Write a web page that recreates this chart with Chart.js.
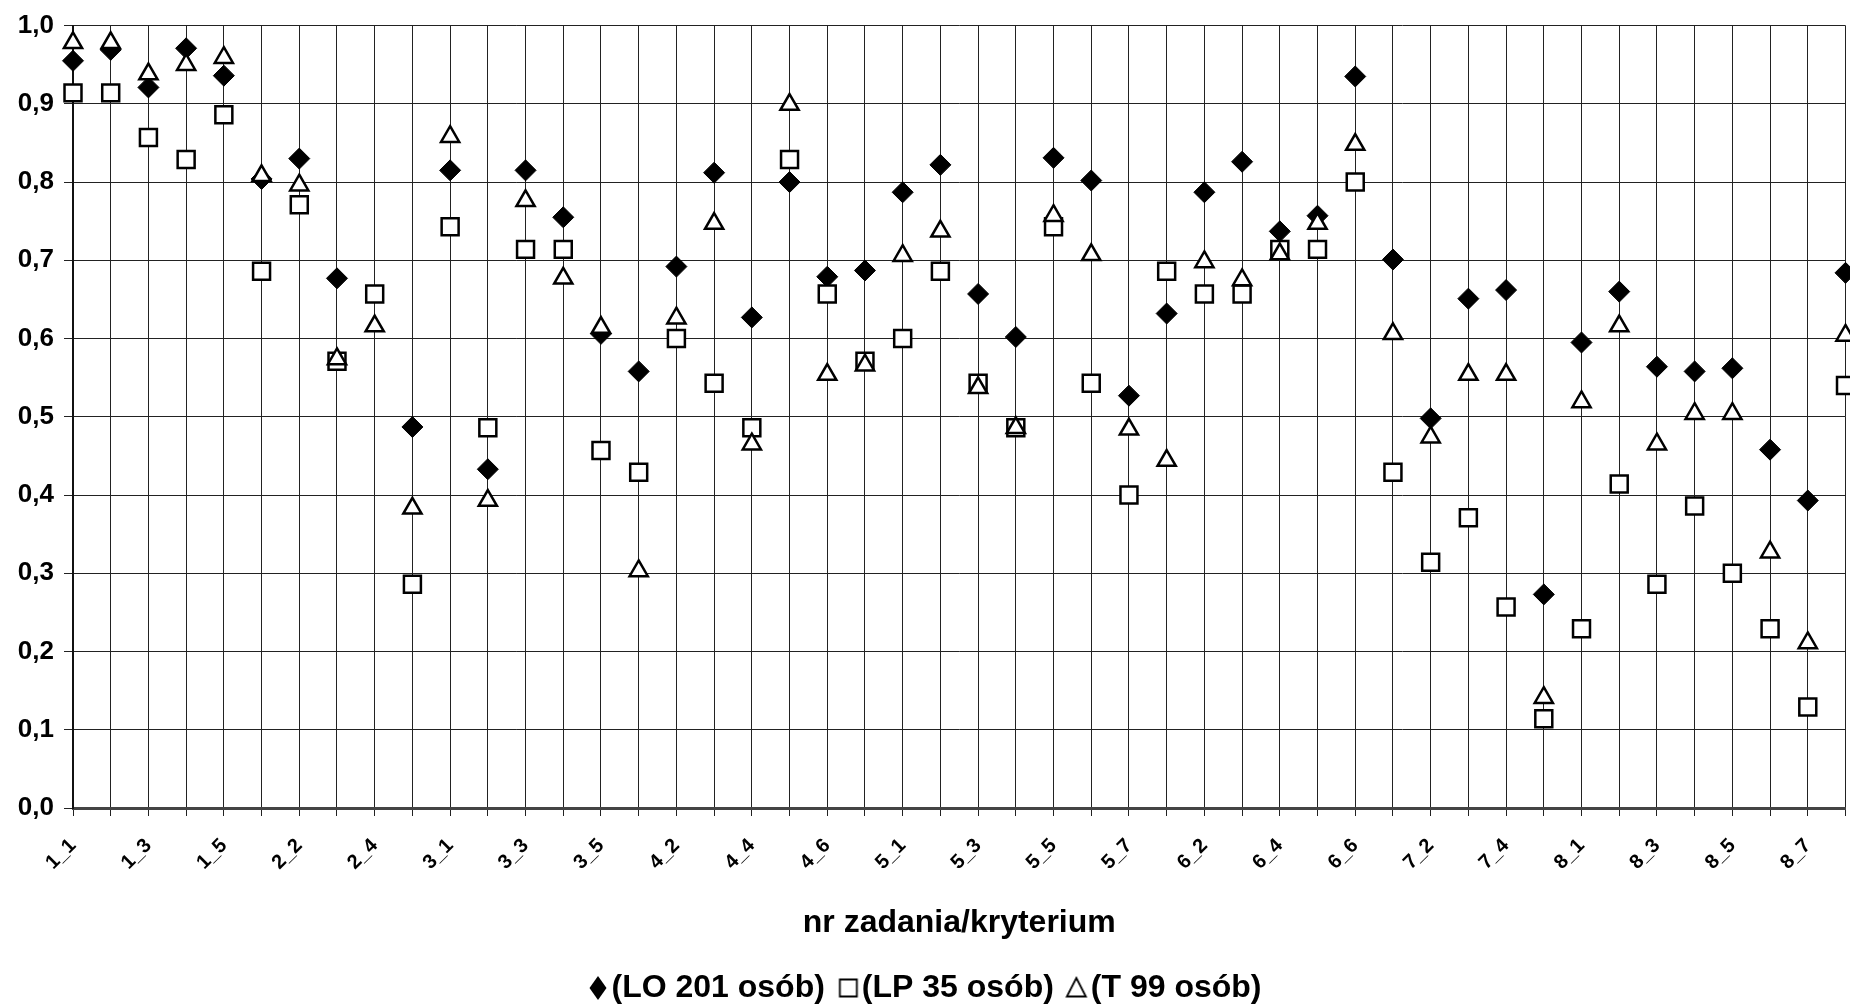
<!DOCTYPE html>
<html>
<head>
<meta charset="utf-8">
<title>nr zadania/kryterium</title>
<script src="https://cdn.jsdelivr.net/npm/chart.js@4.4.1/dist/chart.umd.min.js"></script>
<style>
    html, body { margin: 0; padding: 0; background: #fff; overflow: hidden; }
    canvas { display: block; }
</style>
</head>
<body>
<canvas id="chart" width="1860" height="1014"></canvas>
<script>
// categories (task / criterion)
var CATEGORIES = [
    '1_1', '1_2', '1_3', '1_4', '1_5',
    '2_1', '2_2', '2_3', '2_4', '2_5',
    '3_1', '3_2', '3_3', '3_4', '3_5',
    '4_1', '4_2', '4_3', '4_4', '4_5', '4_6', '4_7',
    '5_1', '5_2', '5_3', '5_4', '5_5', '5_6', '5_7',
    '6_1', '6_2', '6_3', '6_4', '6_5', '6_6',
    '7_1', '7_2', '7_3', '7_4', '7_5',
    '8_1', '8_2', '8_3', '8_4', '8_5', '8_6', '8_7', '8_8'
];

var Y_TICKS = ['0,0', '0,1', '0,2', '0,3', '0,4', '0,5', '0,6', '0,7', '0,8', '0,9', '1,0'];

var SERIES_NAMES = ['(LO 201 osób)', '(LP 35 osób)', '(T 99 osób)'];

// LO 201 osób (filled diamond)
var LO = [
    0.955, 0.969, 0.921, 0.971, 0.936,
    0.804, 0.830, 0.677, null, 0.487,
    0.815, 0.433, 0.815, 0.755, 0.606,
    0.558, 0.692, 0.812, 0.627, 0.800, 0.679, 0.687,
    0.787, 0.822, 0.657, 0.602, 0.831, 0.802, 0.527,
    0.632, 0.787, 0.826, 0.737, 0.757, 0.935,
    0.701, 0.498, 0.651, 0.662, 0.273,
    0.595, 0.660, 0.564, 0.558, 0.562, 0.458, 0.393, 0.684
];

// LP 35 osób (open square)
var LP = [
    0.914, 0.914, 0.857, 0.829, 0.886,
    0.686, 0.771, 0.571, 0.657, 0.286,
    0.743, 0.486, 0.714, 0.714, 0.457,
    0.429, 0.600, 0.543, 0.486, 0.829, 0.657, 0.571,
    0.600, 0.686, 0.543, 0.486, 0.743, 0.543, 0.400,
    0.686, 0.657, 0.657, 0.714, 0.714, 0.800,
    0.429, 0.314, 0.371, 0.257, 0.114,
    0.229, 0.414, 0.286, 0.386, 0.300, 0.229, 0.129, 0.540
];

// T 99 osób (open triangle)
var T = [
    0.978, 0.978, 0.938, 0.950, 0.959,
    0.808, 0.796, 0.574, 0.616, 0.383,
    0.858, 0.393, 0.776, 0.677, 0.614,
    0.303, 0.626, 0.747, 0.465, 0.899, 0.554, 0.566,
    0.706, 0.737, 0.537, 0.486, 0.757, 0.707, 0.484,
    0.444, 0.698, 0.675, 0.708, 0.747, 0.848,
    0.606, 0.474, 0.554, 0.554, 0.141,
    0.519, 0.616, 0.465, 0.504, 0.504, 0.327, 0.211, 0.604
];

(function () {
    'use strict';

    var FONT = "'Liberation Sans', Arial, sans-serif";

    // small marker pictures for the legend (drawn right of centre so they sit close to the text)
    function legendMarker(kind) {
        var c = document.createElement('canvas');
        c.width = 40;
        c.height = 28;
        var g = c.getContext('2d');
        var cy = 14;
        g.lineWidth = 1.8;
        g.strokeStyle = '#000';
        g.fillStyle = '#000';
        g.beginPath();
        if (kind === 'diamond') {
            g.moveTo(23, cy - 12);
            g.lineTo(31.5, cy);
            g.lineTo(23, cy + 12);
            g.lineTo(14.5, cy);
            g.closePath();
            g.fill();
        } else if (kind === 'square') {
            g.rect(14.5, cy - 8.5, 17, 17);
            g.fillStyle = '#fff';
            g.fill();
            g.stroke();
        } else {
            g.moveTo(22, cy - 10);
            g.lineTo(31.5, cy + 8.5);
            g.lineTo(12.5, cy + 8.5);
            g.closePath();
            g.fillStyle = '#fff';
            g.fill();
            g.stroke();
        }
        return c;
    }

    var legendImgs = [legendMarker('diamond'), legendMarker('square'), legendMarker('triangle')];

    var ctx = document.getElementById('chart');

    new Chart(ctx, {
        type: 'line',
        data: {
            labels: CATEGORIES,
            datasets: [
                {
                    label: SERIES_NAMES[0],
                    data: LO,
                    showLine: false,
                    pointStyle: 'rectRot',
                    pointRadius: 10.5,
                    backgroundColor: '#000',
                    borderColor: '#000',
                    borderWidth: 1,
                    order: 3
                },
                {
                    label: SERIES_NAMES[1],
                    data: LP,
                    showLine: false,
                    pointStyle: 'rect',
                    pointRadius: 12,
                    backgroundColor: '#fff',
                    borderColor: '#000',
                    borderWidth: 2.5,
                    order: 2
                },
                {
                    label: SERIES_NAMES[2],
                    data: T,
                    showLine: false,
                    pointStyle: 'triangle',
                    pointRadius: 10.5,
                    backgroundColor: '#fff',
                    borderColor: '#000',
                    borderWidth: 2.5,
                    order: 1
                }
            ]
        },
        options: {
            responsive: false,
            animation: false,
            devicePixelRatio: 1,
            clip: false,
            layout: { padding: { left: 0, right: 4, top: 24, bottom: 0 } },
            plugins: {
                tooltip: { enabled: false },
                legend: {
                    position: 'bottom',
                    labels: {
                        usePointStyle: true,
                        boxWidth: 1,
                        padding: 20,
                        color: '#000',
                        font: { family: FONT, size: 32, weight: 'bold' },
                        generateLabels: function () {
                            return SERIES_NAMES.map(function (name, i) {
                                return {
                                    text: name,
                                    pointStyle: legendImgs[i],
                                    fillStyle: '#000',
                                    strokeStyle: '#000',
                                    lineWidth: 0,
                                    hidden: false,
                                    datasetIndex: i
                                };
                            });
                        }
                    }
                }
            },
            scales: {
                x: {
                    offset: false,
                    grid: { color: '#222', lineWidth: 1, tickLength: 8, drawTicks: true },
                    border: { display: true, color: '#444', width: 3 },
                    ticks: {
                        autoSkip: false,
                        maxRotation: 45,
                        minRotation: 45,
                        padding: 18,
                        color: '#000',
                        font: { family: FONT, size: 20, weight: 'bold' },
                        callback: function (v, i) { return i % 2 === 0 ? CATEGORIES[i] : ''; }
                    },
                    title: {
                        display: true,
                        text: 'nr zadania/kryterium',
                        color: '#000',
                        font: { family: FONT, size: 32, weight: 'bold', lineHeight: 1.2 },
                        padding: { top: 4, bottom: 10 }
                    },
                    afterFit: function (s) {
                        s.height = 144;
                        s.paddingLeft = 0;
                        s.paddingRight = 0;
                    }
                },
                y: {
                    min: 0,
                    max: 1,
                    grid: { color: '#222', lineWidth: 1, tickLength: 9 },
                    border: { display: true, color: '#111', width: 2 },
                    ticks: {
                        stepSize: 0.1,
                        padding: 10,
                        color: '#000',
                        font: { family: FONT, size: 26, weight: 'bold' },
                        callback: function (v, i) { return Y_TICKS[i]; }
                    },
                    afterFit: function (s) { s.width = 73; }
                }
            }
        }
    });
})();
</script>
</body>
</html>
